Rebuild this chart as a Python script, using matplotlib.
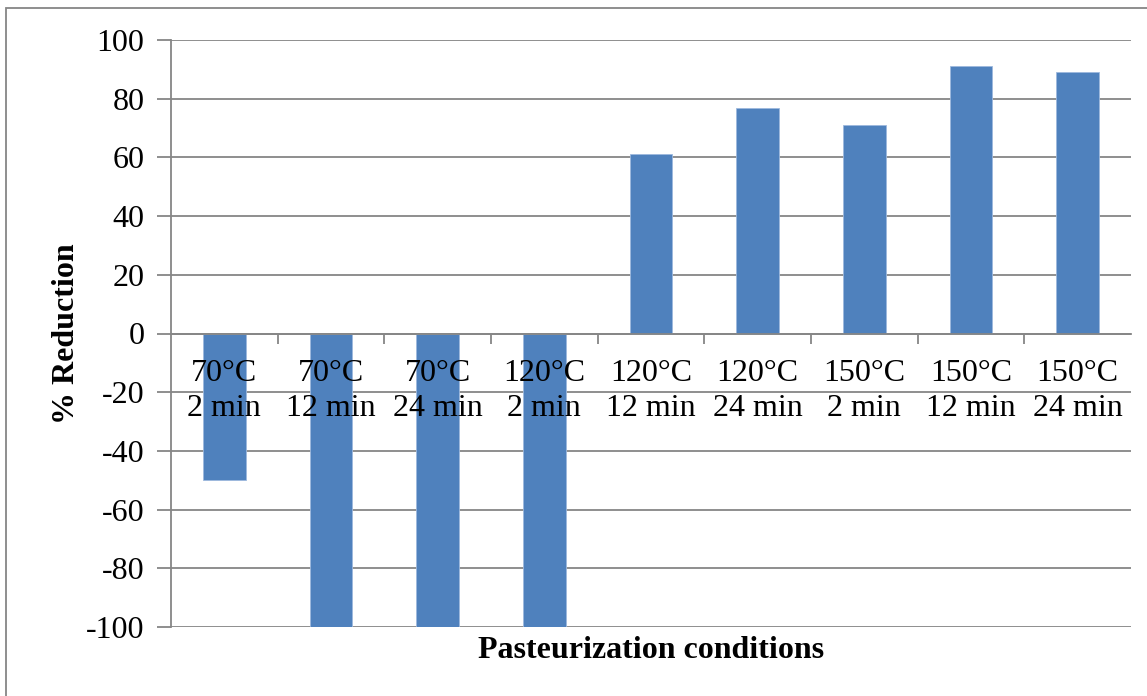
import numpy as np
import matplotlib.pyplot as plt
from matplotlib.patches import Rectangle

# datos
temps = ['70°C', '70°C', '70°C', '120°C', '120°C', '120°C', '150°C', '150°C', '150°C']
times = ['2 min', '12 min', '24 min', '2 min', '12 min', '24 min', '2 min', '12 min', '24 min']
reduction = [-50, -100, -100, -100, 61, 76.7, 71, 91, 89]
y_ticks = [-100, -80, -60, -40, -20, 0, 20, 40, 60, 80, 100]

plt.rcParams['font.family'] = ['Liberation Serif', 'DejaVu Serif']

W, H = 1147, 696
fig = plt.figure(figsize=(W / 100, H / 100), dpi=100)
ax = fig.add_axes([171 / W, 1 - 627 / H, (1131 - 171) / W, (627 - 40) / H])

gris = '#868686'
x = np.arange(len(reduction))

ax.bar(x, reduction, width=0.4, color='#4F81BD', edgecolor='#9DB9DD', linewidth=0.6, zorder=2)

ax.set_xlim(-0.5, len(reduction) - 0.5)
ax.set_ylim(-100, 100)
ax.set_yticks(y_ticks)
ax.set_yticklabels([str(v) for v in y_ticks], fontsize=23)
ax.yaxis.grid(True, color=gris, linewidth=1.3, zorder=0)
ax.set_axisbelow(True)

# eje horizontal cruzando en cero
for s in ['top', 'right']:
    ax.spines[s].set_visible(False)
ax.spines['bottom'].set_position(('data', 0))
ax.spines['bottom'].set_color(gris)
ax.spines['bottom'].set_linewidth(1.3)
ax.spines['bottom'].set_zorder(3)
ax.spines['left'].set_color(gris)
ax.spines['left'].set_linewidth(1.3)

ax.set_xticks(x)
ax.set_xticklabels([])
ax.set_xticks(np.arange(0.5, len(reduction) - 0.5, 1), minor=True)
ax.tick_params(axis='x', which='major', length=0)
ax.tick_params(axis='x', which='minor', length=7, width=1.3, color=gris)
ax.tick_params(axis='y', length=10, width=1.3, color=gris, pad=9)

# etiquetas de categoria encima de las barras
for i in x:
    ax.annotate(temps[i], xy=(i, 0), xytext=(0, -29), textcoords='offset points',
                ha='center', va='center', fontsize=23, zorder=5)
    ax.annotate(times[i], xy=(i, 0), xytext=(0, -54), textcoords='offset points',
                ha='center', va='center', fontsize=23, zorder=5)

ax.set_ylabel('% Reduction', fontsize=23, fontweight='bold', labelpad=4)
fig.text((171 + 1131) / 2 / W, 1 - 651 / H, 'Pasteurization conditions',
         fontsize=23, fontweight='bold', ha='center', va='center')

# marco exterior
fig.patches.append(Rectangle((6 / W, -0.1), 2, 1 - 8 / H + 0.1, transform=fig.transFigure,
                             fill=False, edgecolor=gris, linewidth=1.3))

fig.savefig('out.png', dpi=100)
